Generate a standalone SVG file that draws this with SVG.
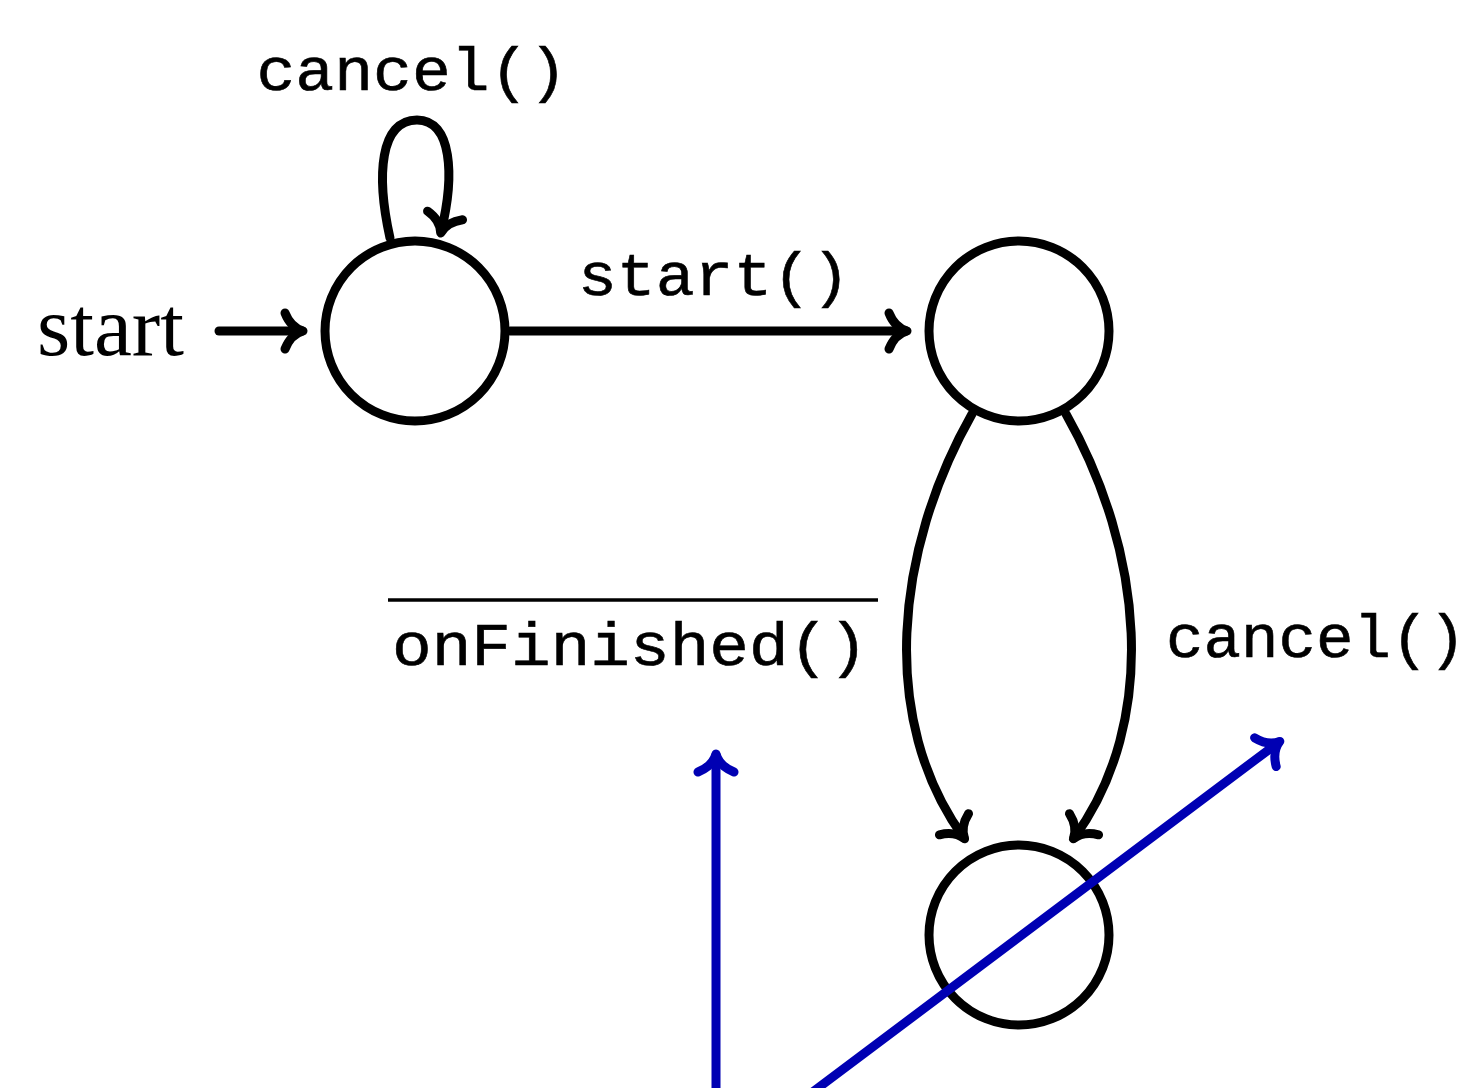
<svg xmlns="http://www.w3.org/2000/svg" width="1479" height="1088" viewBox="0 0 1479 1088">
  <style>
    .state { fill: #ffffff; stroke: #000000; stroke-width: 9; }
    .edge { fill: none; stroke: #000000; stroke-width: 9; stroke-linecap: round; marker-end: url(#to); }
    .blue { fill: none; stroke: #0000b3; stroke-width: 9; stroke-linecap: round; marker-end: url(#toBlue); }
    .tt { font-family: "Liberation Mono", "DejaVu Sans Mono", monospace; font-size: 62px; fill: #000000; stroke: #000000; stroke-width: 0.6; text-anchor: middle; }
    .rm { font-family: "Liberation Serif", "DejaVu Serif", serif; font-size: 84px; fill: #000000; }
  </style>
  <defs>
    <marker id="to" markerUnits="userSpaceOnUse" markerWidth="60" markerHeight="60" refX="0" refY="0" orient="auto" overflow="visible" viewBox="-30 -30 60 60">
      <path d="M -17,-18 C -13,-8 -6,-2 1,0 C -6,2 -13,8 -17,18" fill="none" stroke="#000000" stroke-width="9" stroke-linecap="round" stroke-linejoin="round"/>
    </marker>
    <marker id="toBlue" markerUnits="userSpaceOnUse" markerWidth="60" markerHeight="60" refX="0" refY="0" orient="auto" overflow="visible" viewBox="-30 -30 60 60">
      <path d="M -17,-18 C -13,-8 -6,-2 1,0 C -6,2 -13,8 -17,18" fill="none" stroke="#0000b3" stroke-width="9" stroke-linecap="round" stroke-linejoin="round"/>
    </marker>
  </defs>

  <rect width="1479" height="1088" fill="#ffffff"/>

  <!-- states -->
  <g id="q0"><circle class="state" cx="415" cy="331" r="90"/></g>
  <g id="q1"><circle class="state" cx="1019" cy="331" r="90"/></g>
  <g id="q2"><circle class="state" cx="1019" cy="935" r="90"/></g>

  <!-- transitions -->
  <g id="edges">
    <path class="edge" d="M 219,331 L 302,331"/>
    <path class="edge" d="M 390,238 C 376,175 380,120 417,120 C 452,120 455,175 441,232"/>
    <path class="edge" d="M 510,331 L 906,331"/>
    <path class="edge" d="M 972,414 C 895,550 878,720 964,838"/>
    <path class="edge" d="M 1066,414 C 1143,550 1160,720 1074,838"/>
  </g>

  <!-- labels -->
  <g id="labels">
    <text class="rm" x="37" y="355" textLength="147" lengthAdjust="spacingAndGlyphs">start</text>
    <text class="tt" x="412" y="90" textLength="311" lengthAdjust="spacingAndGlyphs">cancel()</text>
    <text class="tt" x="714" y="295" textLength="272" lengthAdjust="spacingAndGlyphs">start()</text>
    <line x1="388" y1="600" x2="878" y2="600" stroke="#000000" stroke-width="3.5"/>
    <text class="tt" x="630" y="665" textLength="476" lengthAdjust="spacingAndGlyphs">onFinished()</text>
    <text class="tt" x="1316" y="657" textLength="300" lengthAdjust="spacingAndGlyphs">cancel()</text>
  </g>

  <!-- blue axes -->
  <g id="axes">
    <path class="blue" d="M 716,1095 L 716,755"/>
    <path class="blue" d="M 806,1097 L 1279,742"/>
  </g>
</svg>
